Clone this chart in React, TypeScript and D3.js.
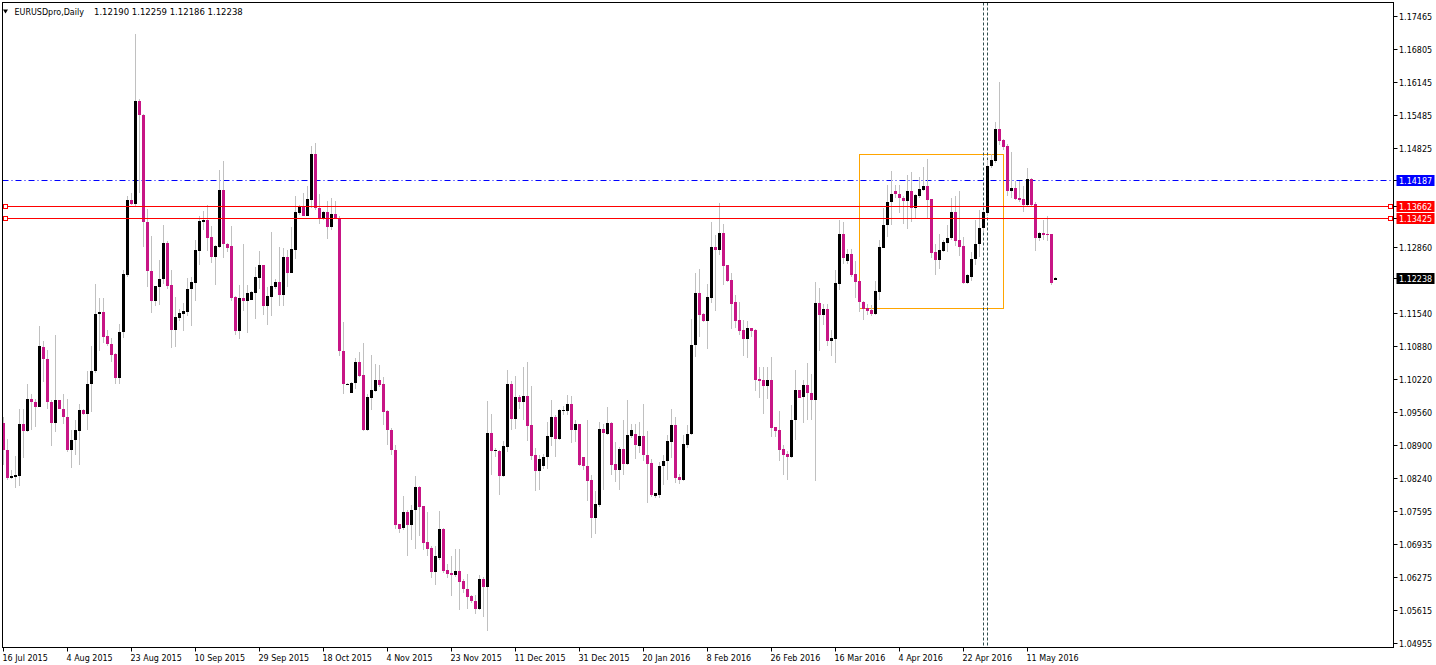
import React from 'react';
import * as d3 from 'd3';

// EURUSDpro daily candles, 16 Jul 2015 .. 18 May 2016
const opens = [
  1.0935, 1.0881, 1.0824, 1.0826, 1.0829, 1.0932, 1.0919, 1.0983, 1.0977, 1.0967,
  1.1085, 1.1061, 1.0977, 1.0935, 1.0980, 1.0963, 1.0947, 1.0881, 1.0900, 1.0919,
  1.0961, 1.0953, 1.1012, 1.1037, 1.1152, 1.1156, 1.1107, 1.1092, 1.1072, 1.1025,
  1.1115, 1.1229, 1.1379, 1.1370, 1.1576, 1.1549, 1.1334, 1.1238, 1.1178, 1.1206,
  1.1221, 1.1294, 1.1209, 1.1120, 1.1144, 1.1151, 1.1155, 1.1201, 1.1214, 1.1278,
  1.1334, 1.1339, 1.1305, 1.1266, 1.1286, 1.1399, 1.1292, 1.1287, 1.1186, 1.1117,
  1.1184, 1.1177, 1.1180, 1.1194, 1.1224, 1.1249, 1.1167, 1.1186, 1.1206, 1.1215,
  1.1189, 1.1266, 1.1234, 1.1279, 1.1352, 1.1364, 1.1347, 1.1379, 1.1470, 1.1362,
  1.1340, 1.1355, 1.1324, 1.1351, 1.1342, 1.1078, 1.1012, 1.0995, 1.1014, 1.1055,
  1.1030, 1.0920, 1.0985, 1.0999, 1.1020, 1.1012, 1.0958, 1.0920, 1.0881, 1.0733,
  1.0726, 1.0757, 1.0731, 1.0760, 1.0806, 1.0768, 1.0698, 1.0686, 1.0638, 1.0666,
  1.0723, 1.0641, 1.0636, 1.0631, 1.0639, 1.0619, 1.0604, 1.0589, 1.0580, 1.0564,
  1.0623, 1.0607, 1.0914, 1.0878, 1.0879, 1.0829, 1.0887, 1.1012, 1.0942, 1.0986,
  1.0977, 1.0988, 1.0930, 1.0871, 1.0838, 1.0849, 1.0866, 1.0907, 1.0946, 1.0902,
  1.0959, 1.0959, 1.0972, 1.0920, 1.0932, 1.0866, 1.0849, 1.0821, 1.0746, 1.0771,
  1.0922, 1.0913, 1.0935, 1.0853, 1.0840, 1.0883, 1.0853, 1.0908, 1.0913, 1.0888,
  1.0908, 1.0871, 1.0854, 1.0788, 1.0791, 1.0848, 1.0858, 1.0897, 1.0931, 1.0826,
  1.0821, 1.0891, 1.0912, 1.1089, 1.1194, 1.1152, 1.1138, 1.1184, 1.1285, 1.1279,
  1.1313, 1.1249, 1.1219, 1.1175, 1.1140, 1.1119, 1.1102, 1.1123, 1.1120, 1.1022,
  1.1020, 1.1009, 1.1020, 1.0926, 1.0920, 1.0883, 1.0873, 1.0866, 1.0941, 1.1000,
  1.0987, 1.1010, 1.0995, 1.0980, 1.1173, 1.1149, 1.1161, 1.1097, 1.1102, 1.1212,
  1.1311, 1.1258, 1.1271, 1.1231, 1.1217, 1.1176, 1.1163, 1.1160, 1.1152, 1.1196,
  1.1284, 1.1328, 1.1374, 1.1396, 1.1391, 1.1382, 1.1376, 1.1397, 1.1362, 1.1387,
  1.1399, 1.1407, 1.1380, 1.1275, 1.1259, 1.1278, 1.1294, 1.1304, 1.1355, 1.1299,
  1.1287, 1.1214, 1.1226, 1.1261, 1.1291, 1.1322, 1.1352, 1.1446, 1.1456, 1.1520,
  1.1498, 1.1486, 1.1396, 1.1402, 1.1383, 1.1381, 1.1368, 1.1421, 1.1371, 1.1304,
  1.1314, 1.1311, 1.1311, 1.12190
];
const highs = [
  1.0947, 1.0903, 1.0841, 1.0868, 1.0963, 1.0963, 1.1013, 1.0992, 1.0983, 1.1127,
  1.1097, 1.1080, 1.0980, 1.1110, 1.0981, 1.0992, 1.0983, 1.0920, 1.0940, 1.0973,
  1.0963, 1.1037, 1.1087, 1.1211, 1.1184, 1.1184, 1.1119, 1.1103, 1.1073, 1.1132,
  1.1240, 1.1386, 1.1392, 1.1709, 1.1580, 1.1550, 1.1361, 1.1308, 1.1208, 1.1259,
  1.1329, 1.1297, 1.1239, 1.1186, 1.1162, 1.1173, 1.1224, 1.1226, 1.1299, 1.1347,
  1.1357, 1.1369, 1.1326, 1.1289, 1.1439, 1.1457, 1.1293, 1.1327, 1.1187, 1.1209,
  1.1292, 1.1209, 1.1197, 1.1246, 1.1277, 1.1250, 1.1206, 1.1316, 1.1221, 1.1286,
  1.1284, 1.1280, 1.1324, 1.1386, 1.1369, 1.1392, 1.1407, 1.1486, 1.1493, 1.1391,
  1.1356, 1.1376, 1.1382, 1.1376, 1.1347, 1.1135, 1.1014, 1.1016, 1.1063, 1.1076,
  1.1093, 1.0993, 1.1070, 1.1051, 1.1050, 1.1027, 1.0961, 1.0924, 1.0891, 1.0734,
  1.0788, 1.0761, 1.0771, 1.0828, 1.0808, 1.0769, 1.0756, 1.0689, 1.0689, 1.0759,
  1.0726, 1.0653, 1.0669, 1.0684, 1.0684, 1.0624, 1.0634, 1.0592, 1.0592, 1.0632,
  1.0628, 1.0978, 1.0952, 1.0884, 1.0881, 1.0898, 1.1040, 1.1018, 1.1028, 1.0990,
  1.1045, 1.1056, 1.1008, 1.0884, 1.0871, 1.0873, 1.0937, 1.0980, 1.0950, 1.0963,
  1.0968, 1.0990, 1.0988, 1.0940, 1.0933, 1.0867, 1.0941, 1.0831, 1.0798, 1.0937,
  1.0933, 1.0967, 1.0937, 1.0897, 1.0886, 1.0940, 1.0981, 1.0932, 1.0933, 1.0937,
  1.0973, 1.0919, 1.0862, 1.0795, 1.0856, 1.0871, 1.0911, 1.0963, 1.0947, 1.0832,
  1.0910, 1.0930, 1.1142, 1.1234, 1.1241, 1.1154, 1.1212, 1.1334, 1.1309, 1.1372,
  1.1330, 1.1250, 1.1234, 1.1189, 1.1175, 1.1140, 1.1137, 1.1124, 1.1121, 1.1045,
  1.1045, 1.1045, 1.1065, 1.0927, 1.0958, 1.0891, 1.0878, 1.0970, 1.1040, 1.1001,
  1.1021, 1.1053, 1.1032, 1.1216, 1.1204, 1.1172, 1.1172, 1.1120, 1.1239, 1.1339,
  1.1334, 1.1282, 1.1282, 1.1258, 1.1218, 1.1177, 1.1172, 1.1170, 1.1217, 1.1299,
  1.1362, 1.1409, 1.1436, 1.1409, 1.1409, 1.1386, 1.1429, 1.1434, 1.1390, 1.1424,
  1.1444, 1.1460, 1.1381, 1.1291, 1.1312, 1.1299, 1.1329, 1.1382, 1.1386, 1.1396,
  1.1306, 1.1231, 1.1276, 1.1338, 1.1359, 1.1359, 1.1459, 1.1470, 1.1535, 1.1613,
  1.1501, 1.1491, 1.1475, 1.1416, 1.1417, 1.1407, 1.1442, 1.1422, 1.1374, 1.1316,
  1.1339, 1.1346, 1.1312, 1.12259
];
const lows = [
  1.0851, 1.0821, 1.0822, 1.0804, 1.0808, 1.0864, 1.0917, 1.0920, 1.0927, 1.0966,
  1.1017, 1.0963, 1.0889, 1.0917, 1.0962, 1.0933, 1.0876, 1.0844, 1.0871, 1.0851,
  1.0950, 1.0920, 1.0957, 1.1035, 1.1077, 1.1093, 1.1087, 1.1055, 1.1012, 1.1013,
  1.1103, 1.1226, 1.1369, 1.1366, 1.1392, 1.1286, 1.1206, 1.1153, 1.1168, 1.1170,
  1.1212, 1.1202, 1.1083, 1.1085, 1.1138, 1.1118, 1.1148, 1.1127, 1.1177, 1.1249,
  1.1319, 1.1277, 1.1254, 1.1210, 1.1284, 1.1264, 1.1276, 1.1177, 1.1109, 1.1101,
  1.1157, 1.1113, 1.1179, 1.1142, 1.1202, 1.1150, 1.1130, 1.1147, 1.1201, 1.1168,
  1.1168, 1.1206, 1.1233, 1.1261, 1.1349, 1.1346, 1.1346, 1.1362, 1.1359, 1.1331,
  1.1339, 1.1301, 1.1319, 1.1340, 1.1067, 1.0993, 1.1011, 1.0994, 1.1003, 1.1027,
  1.0919, 1.0919, 1.0960, 1.0996, 1.1007, 1.0930, 1.0891, 1.0871, 1.0724, 1.0716,
  1.0721, 1.0669, 1.0702, 1.0684, 1.0710, 1.0681, 1.0669, 1.0626, 1.0611, 1.0662,
  1.0636, 1.0626, 1.0589, 1.0627, 1.0562, 1.0595, 1.0564, 1.0575, 1.0554, 1.0561,
  1.0547, 1.0519, 1.0831, 1.0867, 1.0791, 1.0826, 1.0876, 1.0920, 1.0922, 1.0962,
  1.0940, 1.0898, 1.0861, 1.0798, 1.0801, 1.0843, 1.0843, 1.0889, 1.0866, 1.0901,
  1.0950, 1.0951, 1.0895, 1.0897, 1.0849, 1.0841, 1.0778, 1.0706, 1.0713, 1.0766,
  1.0800, 1.0910, 1.0830, 1.0816, 1.0800, 1.0830, 1.0851, 1.0904, 1.0863, 1.0874,
  1.0858, 1.0774, 1.0786, 1.0784, 1.0784, 1.0811, 1.0821, 1.0864, 1.0814, 1.0812,
  1.0818, 1.0884, 1.0911, 1.1065, 1.1105, 1.1136, 1.1082, 1.1173, 1.1157, 1.1269,
  1.1209, 1.1216, 1.1122, 1.1123, 1.1110, 1.1067, 1.1063, 1.1106, 1.0998, 1.0985,
  1.0953, 1.0983, 1.0907, 1.0907, 1.0858, 1.0831, 1.0821, 1.0864, 1.0900, 1.0984,
  1.0935, 1.0941, 1.0941, 1.0818, 1.1077, 1.1130, 1.1087, 1.1068, 1.1053, 1.1199,
  1.1252, 1.1252, 1.1226, 1.1184, 1.1155, 1.1140, 1.1150, 1.1148, 1.1149, 1.1180,
  1.1283, 1.1306, 1.1329, 1.1382, 1.1352, 1.1331, 1.1321, 1.1334, 1.1342, 1.1383,
  1.1397, 1.1340, 1.1264, 1.1229, 1.1241, 1.1276, 1.1276, 1.1299, 1.1287, 1.1267,
  1.1212, 1.1212, 1.1218, 1.1249, 1.1266, 1.1315, 1.1347, 1.1442, 1.1453, 1.1488,
  1.1479, 1.1387, 1.1382, 1.1379, 1.1374, 1.1354, 1.1366, 1.1366, 1.1277, 1.1298,
  1.1299, 1.1298, 1.1209, 1.12186
];
const closes = [
  1.0880, 1.0824, 1.0828, 1.0831, 1.0932, 1.0919, 1.0983, 1.0977, 1.0967, 1.1087,
  1.1061, 1.0977, 1.0935, 1.0980, 1.0963, 1.0947, 1.0881, 1.0900, 1.0920, 1.0961,
  1.0953, 1.1012, 1.1037, 1.1152, 1.1156, 1.1105, 1.1092, 1.1070, 1.1025, 1.1115,
  1.1231, 1.1379, 1.1371, 1.1576, 1.1549, 1.1334, 1.1238, 1.1178, 1.1207, 1.1221,
  1.1294, 1.1207, 1.1120, 1.1145, 1.1153, 1.1157, 1.1202, 1.1216, 1.1279, 1.1336,
  1.1339, 1.1304, 1.1266, 1.1288, 1.1399, 1.1291, 1.1284, 1.1184, 1.1117, 1.1184,
  1.1177, 1.1194, 1.1196, 1.1226, 1.1249, 1.1167, 1.1187, 1.1207, 1.1215, 1.1189,
  1.1266, 1.1234, 1.1281, 1.1354, 1.1366, 1.1347, 1.1381, 1.1470, 1.1362, 1.1340,
  1.1355, 1.1324, 1.1351, 1.1342, 1.1077, 1.1013, 1.1013, 1.1015, 1.1055, 1.1028,
  1.0920, 1.0987, 1.1000, 1.1020, 1.1010, 1.0957, 1.0920, 1.0881, 1.0731, 1.0724,
  1.0757, 1.0731, 1.0761, 1.0806, 1.0766, 1.0696, 1.0683, 1.0638, 1.0669, 1.0723,
  1.0640, 1.0633, 1.0631, 1.0639, 1.0618, 1.0603, 1.0587, 1.0579, 1.0564, 1.0623,
  1.0607, 1.0914, 1.0879, 1.0881, 1.0829, 1.0889, 1.1012, 1.0942, 1.0986, 1.0977,
  1.0988, 1.0928, 1.0869, 1.0838, 1.0863, 1.0866, 1.0908, 1.0946, 1.0902, 1.0960,
  1.0960, 1.0972, 1.0920, 1.0932, 1.0851, 1.0848, 1.0819, 1.0746, 1.0773, 1.0922,
  1.0915, 1.0935, 1.0851, 1.0840, 1.0883, 1.0853, 1.0910, 1.0920, 1.0890, 1.0908,
  1.0870, 1.0853, 1.0791, 1.0794, 1.0849, 1.0859, 1.0898, 1.0931, 1.0824, 1.0821,
  1.0892, 1.0913, 1.1090, 1.1194, 1.1150, 1.1138, 1.1185, 1.1285, 1.1279, 1.1313,
  1.1248, 1.1217, 1.1172, 1.1138, 1.1117, 1.1102, 1.1123, 1.1118, 1.1021, 1.1018,
  1.1009, 1.1020, 1.0925, 1.0918, 1.0881, 1.0871, 1.0866, 1.0941, 1.1000, 1.0985,
  1.1010, 1.0995, 1.0981, 1.1173, 1.1149, 1.1161, 1.1097, 1.1103, 1.1214, 1.1311,
  1.1264, 1.1271, 1.1229, 1.1216, 1.1175, 1.1161, 1.1158, 1.1152, 1.1197, 1.1285,
  1.1329, 1.1375, 1.1391, 1.1391, 1.1382, 1.1376, 1.1397, 1.1362, 1.1389, 1.1400,
  1.1407, 1.1378, 1.1274, 1.1259, 1.1279, 1.1296, 1.1304, 1.1355, 1.1298, 1.1286,
  1.1214, 1.1229, 1.1262, 1.1292, 1.1323, 1.1355, 1.1447, 1.1458, 1.1520, 1.1497,
  1.1485, 1.1396, 1.1402, 1.1381, 1.1379, 1.1368, 1.1421, 1.1369, 1.1304, 1.1314,
  1.1309, 1.1310, 1.1214, 1.12238
];

// one date label every 16 bars, starting at bar 0
const dateLabels = [
  '16 Jul 2015', '4 Aug 2015', '23 Aug 2015', '10 Sep 2015', '29 Sep 2015', '18 Oct 2015',
  '4 Nov 2015', '23 Nov 2015', '11 Dec 2015', '31 Dec 2015', '20 Jan 2016', '8 Feb 2016',
  '26 Feb 2016', '16 Mar 2016', '4 Apr 2016', '22 Apr 2016', '11 May 2016'
];
const dateStep = 16;

const priceTicks = [
  1.17465, 1.16805, 1.16145, 1.15485, 1.14825, 1.12860, 1.11540, 1.10880, 1.10220,
  1.09560, 1.08900, 1.08240, 1.07595, 1.06935, 1.06275, 1.05615, 1.04955
];

// horizontal objects on the chart
const dashLevel = 1.14187;
const redLevels = [1.13662, 1.13425];
// rectangle object: bars and prices of its corners
const boxBars = [214, 250];
const boxPrices = [1.1163, 1.1470];
// vertical dotted lines
const vLineBars = [245, 246];

const W = 1436;
const H = 665;
const frame = { left: 2.5, top: 2.5, right: 1393.5, bottom: 647.5 };
const FONT = '"DejaVu Sans", Verdana, sans-serif';
const BEAR = '#C71585';
const BULL = '#000000';
const WICK = '#C0C0C0';

export default function App() {
  const n = closes.length;
  const x = d3.scaleLinear().domain([0, 347]).range([3.5, 1391.5]);
  const y = d3.scaleLinear().domain([1.04955, 1.17465]).range([643.2, 15.5]);

  const bars = d3.range(n).map(i => ({ i, o: opens[i], h: highs[i], l: lows[i], c: closes[i] }));
  const last = bars[n - 1];

  const priceBox = (p: number, bg: string, key: string) => {
    const yy = Math.round(y(p));
    return (
      <g key={key}>
        <line x1={frame.right} x2={frame.right + 4} y1={yy + 0.5} y2={yy + 0.5} stroke="#000" />
        <rect x={1396.5} y={yy - 5} width={38} height={11} fill={bg} />
        <text x={1399} y={yy + 3.5} fontSize={8} fill="#fff" fontFamily={FONT}>{p.toFixed(5)}</text>
      </g>
    );
  };

  return (
    <div style={{ position: 'fixed', left: 0, top: 0, width: W, height: H, background: '#fff' }}>
      <svg width={W} height={H} style={{ display: 'block' }}>
        <rect x={0} y={0} width={W} height={H} fill="#fff" />

        {/* rectangle object */}
        <rect
          x={x(boxBars[0])}
          y={y(boxPrices[1])}
          width={x(boxBars[1]) - x(boxBars[0])}
          height={y(boxPrices[0]) - y(boxPrices[1])}
          fill="none"
          stroke="#FFA500"
          shapeRendering="crispEdges"
        />

        {/* vertical dotted lines */}
        {vLineBars.map(b => (
          <line key={'v' + b} x1={x(b)} x2={x(b)} y1={frame.top} y2={frame.bottom}
            stroke="#2F4F4F" strokeDasharray="3,2" />
        ))}

        {/* dash-dot level */}
        <line x1={frame.left} x2={frame.right} y1={Math.round(y(dashLevel)) + 0.5} y2={Math.round(y(dashLevel)) + 0.5}
          stroke="#0000FF" strokeDasharray="6,3,1,3" />

        {/* candles */}
        <g shapeRendering="crispEdges">
          {bars.map(d => {
            const cx = x(d.i);
            const up = d.c >= d.o;
            const top = y(Math.max(d.o, d.c));
            const bot = y(Math.min(d.o, d.c));
            return (
              <g key={d.i}>
                <rect x={cx - 0.5} y={y(d.h)} width={1} height={Math.max(1, y(d.l) - y(d.h))} fill={WICK} />
                <rect x={cx - 1.5} y={top} width={3} height={Math.max(1, bot - top)} fill={up ? BULL : BEAR} />
              </g>
            );
          })}
        </g>

        {/* red horizontal lines with end squares */}
        {redLevels.map(p => {
          const yy = Math.round(y(p)) + 0.5;
          return (
            <g key={'r' + p}>
              <line x1={7.5} x2={1388.5} y1={yy} y2={yy} stroke="#FF0000" />
              <rect x={3.5} y={yy - 2} width={4} height={4} fill="#fff" stroke="#FF0000" />
              <rect x={1388.5} y={yy - 2} width={4} height={4} fill="#fff" stroke="#FF0000" />
            </g>
          );
        })}

        {/* frame */}
        <rect x={frame.left} y={frame.top} width={frame.right - frame.left} height={frame.bottom - frame.top}
          fill="none" stroke="#000" shapeRendering="crispEdges" />

        {/* price axis */}
        <g fontFamily={FONT} fontSize={8} fill="#000">
          {priceTicks.map(p => {
            const yy = Math.round(y(p));
            return (
              <g key={'p' + p}>
                <line x1={frame.right} x2={frame.right + 4} y1={yy + 0.5} y2={yy + 0.5} stroke="#000" />
                <text x={1399} y={yy + 3.5}>{p.toFixed(5)}</text>
              </g>
            );
          })}
        </g>
        {priceBox(dashLevel, '#0000FF', 'b1')}
        {priceBox(redLevels[0], '#FF0000', 'b2')}
        {priceBox(redLevels[1], '#FF0000', 'b3')}
        {priceBox(last.c, '#000000', 'b4')}

        {/* time axis */}
        <g fontFamily={FONT} fontSize={8} fill="#000">
          {dateLabels.map((t, k) => {
            const xx = Math.round(x(k * dateStep) - 0.5) + 0.5;
            return (
              <g key={t}>
                <line x1={xx} x2={xx} y1={frame.bottom} y2={frame.bottom + 4} stroke="#000" />
                <text x={xx - 1} y={661}>{t}</text>
              </g>
            );
          })}
        </g>

        {/* header */}
        <path d="M3,9.5 L8,9.5 L5.5,13.5 Z" fill="#000" />
        <text x={14.5} y={15} fontFamily={FONT} fontSize={8} fill="#000">EURUSDpro,Daily</text>
        <text x={94} y={15} fontFamily={FONT} fontSize={8.5} fill="#000">
          {[last.o, last.h, last.l, last.c].map(v => v.toFixed(5)).join(' ')}
        </text>
      </svg>
    </div>
  );
}
